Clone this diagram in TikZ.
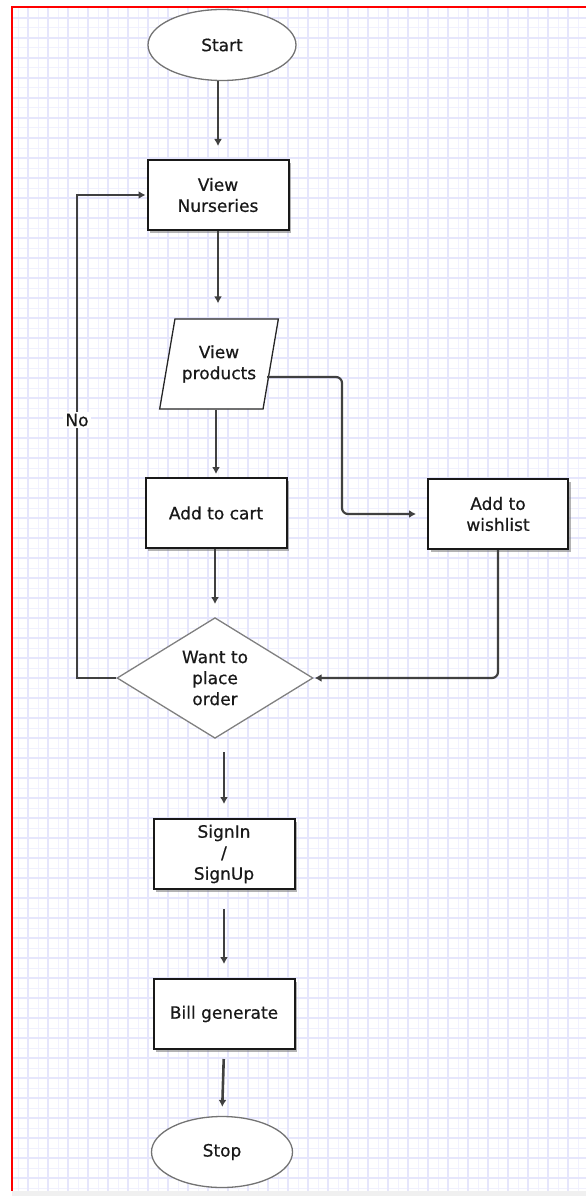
\documentclass[tikz,border=0pt]{standalone}
\usepackage{fontspec}
\setmainfont{DejaVu Sans}
\newfontfamily\boxfont{DejaVu Sans}[FakeBold=0.6]
\usetikzlibrary{calc}
\usetikzlibrary{arrows.meta}
\usetikzlibrary{shapes.geometric}
\usetikzlibrary{shadows}
\usepackage{xcolor}
\definecolor{gridline}{RGB}{230,230,252}
\definecolor{gridlight}{RGB}{241,241,254}
\definecolor{linegray}{RGB}{64,64,64}

\tikzset{
  txt/.style={font=\boxfont\fontsize{17}{21}\selectfont, align=center, text=black!90},
  procbox/.style={txt, draw=black!90, line width=2pt, fill=white,
    minimum width=141pt, minimum height=70pt, inner sep=0pt,
    drop shadow={shadow xshift=2.5pt, shadow yshift=-2.5pt, fill=black!50, opacity=.6}},
  term/.style={txt, ellipse, draw=black!55, line width=1.3pt, fill=white, inner sep=0pt},
  iobox/.style={txt, trapezium, trapezium left angle=71, trapezium right angle=109,
    trapezium stretches=true, draw=black!85, line width=1.3pt, fill=white,
    minimum width=120pt, minimum height=90pt, inner sep=0pt},
  decide/.style={txt, diamond, draw=black!50, line width=1.3pt, fill=white,
    minimum width=196pt, minimum height=119pt, inner sep=0pt},
  flow/.style={draw=linegray, line width=2.6pt, -{Latex[length=7pt,width=8pt]}},
}

\begin{document}
\begin{tikzpicture}[x=1pt,y=-1pt]
\useasboundingbox (0,0) rectangle (586,1196);
% paper
\fill[gray!12] (12,1191) rectangle (586,1196);
\foreach \x in {18,38,...,586} \draw[gridlight, line width=1pt] (\x,8) -- (\x,1191);
\foreach \y in {8,28,...,1191} \draw[gridlight, line width=1pt] (12,\y) -- (586,\y);
\foreach \x in {28,48,...,586} \draw[gridline, line width=1.2pt] (\x,8) -- (\x,1191);
\foreach \y in {18,38,...,1191} \draw[gridline, line width=1.2pt] (12,\y) -- (586,\y);
\draw[red, line width=2pt] (12,1191) -- (12,7) -- (586,7);

% steps
\node[term, minimum width=148pt, minimum height=71pt] (start) at (222,45) {Start};
\node[procbox] (nurs) at (218,195) {View\\Nurseries};
\node[iobox] (prod) at (219,364) {View\\products};
\node[procbox] (cart) at (216,513) {Add to cart};
\node[procbox, minimum width=140pt] (wish) at (498,514) {Add to\\wishlist};
\node[decide] (order) at (215,678) {Want to\\place\\order};
\node[procbox] (sign) at (224,854) {SignIn\\/\\SignUp};
\node[procbox] (bill) at (224,1014) {Bill generate};
\node[term, minimum width=141pt, minimum height=71pt] (stop) at (222,1152) {Stop};

% arrows
\draw[flow, shorten >=13pt] (start.south -| nurs) -- (nurs.north);
\draw[flow, shorten >=15pt] (nurs.south) -- (nurs.south |- prod.north);
\draw[flow, shorten >=3pt] (prod.south -| cart) -- (cart.north);
\draw[flow, shorten >=13pt] (cart.south -| order) -- (order.north);
\draw[flow, shorten <=13pt, shorten >=14pt] (order.south -| sign) -- (sign.north);
\draw[flow, shorten <=19pt, shorten >=14pt] (sign.south) -- (bill.north);
\draw[flow, shorten <=9pt, shorten >=9pt] (bill.south) -- (stop.north);

\coordinate (pout) at ($(prod.center)+(48,13)$);
\draw[flow, line width=2.2pt, rounded corners=6pt, shorten >=11pt] (pout) -- (342,377) |- (wish.west);
\draw[flow, line width=2.2pt, rounded corners=6pt, shorten >=1pt] (wish.south) |- (order.east);

\coordinate (back) at (77,678);
\draw[flow, line width=2.2pt, shorten >=1pt] (order.west) -- (back) |- (nurs.west)
  node[pos=.267, fill=white, inner sep=2pt, txt] (no) {No};
\end{tikzpicture}
\end{document}
